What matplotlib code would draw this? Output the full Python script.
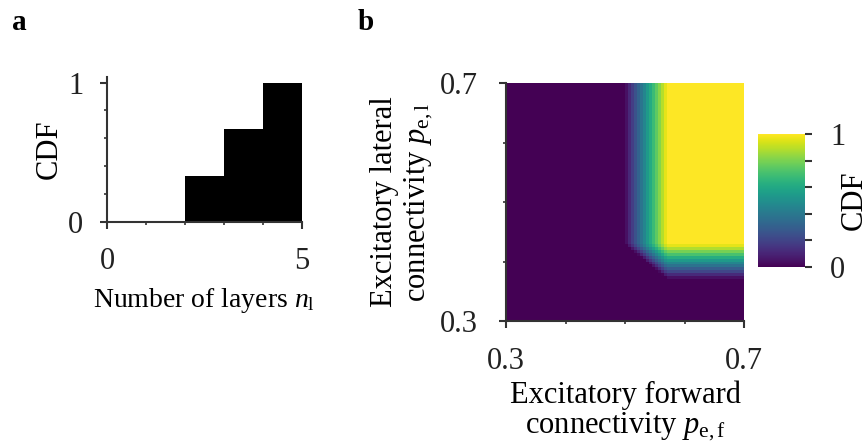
import matplotlib
matplotlib.use("Agg")
import matplotlib.pyplot as plt
import numpy as np

plt.rcParams['font.family'] = ['Liberation Serif', 'DejaVu Serif']
plt.rcParams['mathtext.fontset'] = 'custom'
plt.rcParams['mathtext.rm'] = 'Liberation Serif'
plt.rcParams['mathtext.it'] = 'Liberation Serif:italic'
plt.rcParams['font.size'] = 22

AX_COLOR = '#333333'

# (a) CDF of the number of layers
layer_edges = [0, 1, 2, 3, 4, 5]
layer_cdf = [0.0, 0.0, 1 / 3, 2 / 3, 1.0]

# (b) CDF over forward / lateral excitatory connectivity
p_lo, p_hi, p_step = 0.3, 0.7, 0.005
forward_start = 0.50   # first p_e,f cell of the transition
forward_ramp = [0.04, 0.11, 0.18, 0.25, 0.32, 0.39, 0.46,
                0.54, 0.61, 0.68, 0.75, 0.82, 0.89, 0.96]
lateral_start = 0.37   # first p_e,l cell of the transition
lateral_ramp = [0.04, 0.12, 0.21, 0.29, 0.38, 0.46,
                0.54, 0.62, 0.71, 0.79, 0.88, 0.96]


def marginal(edges, start, ramp):
    left = edges[:-1]
    vals = np.where(left < start - 1e-9, 0.0, 1.0)
    k0 = int(round((start - edges[0]) / p_step))
    vals[k0:k0 + len(ramp)] = ramp
    return vals


edges = np.linspace(p_lo, p_hi, int(round((p_hi - p_lo) / p_step)) + 1)
f_forward = marginal(edges, forward_start, forward_ramp)
g_lateral = marginal(edges, lateral_start, lateral_ramp)
cdf_grid = np.clip(f_forward[None, :] + g_lateral[:, None] - 1.0, 0, 1)

W, H = 868, 446
fig = plt.figure(figsize=(W / 100, H / 100), dpi=100)


def style_axes(ax, xpad, ypad):
    for s in ('top', 'right'):
        ax.spines[s].set_visible(False)
    for s in ('left', 'bottom'):
        ax.spines[s].set_color(AX_COLOR)
        ax.spines[s].set_linewidth(1.5)
    ax.tick_params(which='major', length=5, width=1.5, color=AX_COLOR,
                   labelcolor='#222222')
    ax.tick_params(which='minor', length=2.5, width=1.2, color=AX_COLOR)
    ax.tick_params(axis='x', which='major', pad=xpad)
    ax.tick_params(axis='y', which='major', pad=ypad)


# ---- panel a ----
ax_a = fig.add_axes([107 / W, 1 - 222 / H, 195 / W, (222 - 77) / H])
ax_a.stairs(layer_cdf, layer_edges, fill=True, color='black')
ax_a.set_xlim(0, 5)
ax_a.set_ylim(0, 1.04)
ax_a.set_xticks([0, 5])
ax_a.set_xticks([1, 2, 3, 4], minor=True)
ax_a.set_yticks([0, 1])
ax_a.set_yticks([0.2, 0.4, 0.6, 0.8], minor=True)
style_axes(ax_a, xpad=13, ypad=12)
ax_a.set_xlabel(r'Number of layers $n_{\mathrm{l}}$', fontsize=20, labelpad=7)
ax_a.set_ylabel('CDF', labelpad=3)

# ---- panel b ----
ax_b = fig.add_axes([506 / W, 1 - 321 / H, 238 / W, 238 / H])
mesh = ax_b.pcolormesh(edges, edges, cdf_grid, cmap='viridis',
                       vmin=0, vmax=1, shading='flat')
ax_b.set_xlim(p_lo, p_hi)
ax_b.set_ylim(p_lo, p_hi)
ax_b.set_xticks([0.3, 0.7])
ax_b.set_xticklabels(['0.3', '0.7'])
ax_b.set_xticks([0.4, 0.5, 0.6], minor=True)
ax_b.set_yticks([0.3, 0.7])
ax_b.set_yticklabels(['0.3', '0.7'])
ax_b.set_yticks([0.4, 0.5, 0.6], minor=True)
style_axes(ax_b, xpad=14, ypad=15)
ax_b.set_xlabel('Excitatory forward\n' + r'connectivity $p_{\mathrm{e,f}}$',
                labelpad=3, linespacing=1.05)
ax_b.set_ylabel('Excitatory lateral\n' + r'connectivity $p_{\mathrm{e,l}}$',
                labelpad=4, linespacing=1.15)

cax = fig.add_axes([758 / W, 1 - 267 / H, 47 / W, 133 / H])
cb = fig.colorbar(mesh, cax=cax)
cb.outline.set_visible(False)
cb.set_ticks([0, 0.2, 0.4, 0.6, 0.8, 1.0])
cb.set_ticklabels(['0', '', '', '', '', '1'])
cax.tick_params(length=5, width=1.5, color=AX_COLOR, labelcolor='#222222', pad=13)
cb.set_label('CDF', labelpad=-4)

fig.text(12 / W, 1 - 22 / H, 'a', fontweight='bold', fontsize=21, va='center')
fig.text(358 / W, 1 - 22 / H, 'b', fontweight='bold', fontsize=21, va='center')

fig.savefig('out.png', dpi=100)
